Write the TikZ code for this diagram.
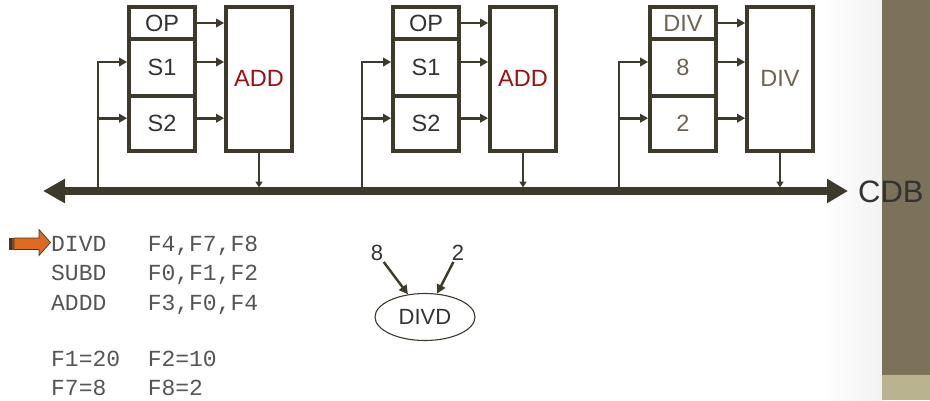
\documentclass[tikz,border=0pt]{standalone}
\usepackage{fontspec}
\setmainfont{Liberation Sans}
\newfontfamily\codefont{Liberation Mono}
\usetikzlibrary{arrows.meta,shapes.geometric,calc}
\definecolor{ln}{HTML}{3D3A2C}
\definecolor{txt}{HTML}{333333}
\definecolor{gry}{HTML}{6B6450}
\definecolor{addred}{HTML}{9B1010}
\definecolor{codec}{HTML}{555555}
\definecolor{barc}{HTML}{7B7259}
\definecolor{barl}{HTML}{B9B38F}
\definecolor{orng}{HTML}{E06A1E}
\definecolor{stripe}{HTML}{7A4A2A}
\begin{document}
\begin{tikzpicture}[x=1pt,y=-1pt,
  box/.style={draw=ln,line width=3.8pt,minimum width=66pt,inner sep=0pt,font=\fontsize{23.5}{26}\selectfont},
  conn/.style={draw=ln,line width=2.6pt,-{Triangle[length=8pt,width=8.5pt]}},
  fbk/.style={draw=ln,line width=2.6pt,-{Triangle[length=8pt,width=8.5pt]}},
  outc/.style={draw=ln,line width=2pt,-{Triangle[length=6pt,width=7pt]}},
  bus/.style={draw=ln,line width=7.5pt,{Triangle[length=22pt,width=23pt]}-{Triangle[length=21pt,width=23pt]}},
  code/.style={font=\codefont\fontsize{23}{26}\selectfont,text=codec,inner sep=0pt,anchor=base west},
  lbl/.style={font=\fontsize{22}{24}\selectfont,text=txt,inner sep=1pt},
  darr/.style={draw=ln,line width=2.4pt,-{Triangle[length=9pt,width=9pt]}}
]
\useasboundingbox (0,0) rectangle (930,400);
\fill[white] (0,0) rectangle (930,400);
\shade[left color=white,right color=black!5] (820,0) rectangle (882,400);
\fill[barc] (882,0) rectangle (930,375);
\fill[barl] (882,375) rectangle (930,400);

\coordinate (busL) at (43,191);
\coordinate (busR) at (848,191);
\coordinate (busT) at (0,187.5);

\foreach \i/\dx/\a/\b/\c/\f/\tc/\fc in {1/0/OP/S1/S2/ADD/txt/addred,2/264/OP/S1/S2/ADD/txt/addred,3/521/DIV/8/2/DIV/gry/gry}{
  \node[box,minimum height=32.6pt,text=\tc] (op\i) at (162+\dx,23) {\a};
  \node[box,minimum height=56.4pt,text=\tc] (sa\i) at (162+\dx,67.5) {\b};
  \node[box,minimum height=55pt,text=\tc] (sb\i) at (162+\dx,123.2) {\c};
  \node[box,minimum height=144pt,text=\fc] (fu\i) at (259+\dx,78.7) {\f};
  \coordinate (ia\i) at ($(sa\i.east)+(0,-5.5)$);
  \coordinate (ib\i) at ($(sb\i.east)+(0,-5)$);
  \coordinate (wa\i) at ($(sa\i.west)+(0,-5.5)$);
  \coordinate (wb\i) at ($(sb\i.west)+(0,-5)$);
  \coordinate (fb\i) at (98+\dx,191);
  \draw[conn] (op\i.east) -- (op\i.east -| fu\i.west);
  \draw[conn] (ia\i) -- (ia\i -| fu\i.west);
  \draw[conn] (ib\i) -- (ib\i -| fu\i.west);
  \draw[fbk] (fb\i) |- (wa\i);
  \draw[fbk] (fb\i |- wb\i) -- (wb\i);
  \draw[outc] (fu\i.south) -- (fu\i.south |- busT);
}
\draw[bus] (busL) -- (busR);
\node[font=\fontsize{31}{34}\selectfont,text=txt,anchor=west,inner sep=0pt] (cdb) at (858,192) {CDB};

% orange pointer
\draw[ln,line width=0.7pt,fill=orng] (14,238) -- (39,238) -- (39,229.5) -- (50.5,242.5) -- (39,255.5) -- (39,249.5) -- (14,249.5) -- cycle;
\fill[ln] (9,238) rectangle (12,249.5);
\fill[stripe] (12,238) rectangle (14,249.5);

\node[code] (c1) at (51,251.7) {DIVD\ \ \ F4,F7,F8};
\node[code] (c2) at (51,280.7) {SUBD\ \ \ F0,F1,F2};
\node[code] (c3) at (51,310) {ADDD\ \ \ F3,F0,F4};
\node[code] (c4) at (51,366.7) {F1=20\ \ F2=10};
\node[code] (c5) at (51,395.7) {F7=8\ \ \ F8=2};

\node[draw=ln,line width=1.1pt,ellipse,minimum width=100pt,minimum height=47pt,inner sep=0pt,font=\fontsize{22}{24}\selectfont,text=txt] (dv) at (425,317) {DIVD};
\node[lbl] (n8) at (377,253) {8};
\node[lbl] (n2) at (458,253) {2};
\draw[darr] (n8) -- (dv);
\draw[darr] (n2) -- (dv);
\end{tikzpicture}
\end{document}
